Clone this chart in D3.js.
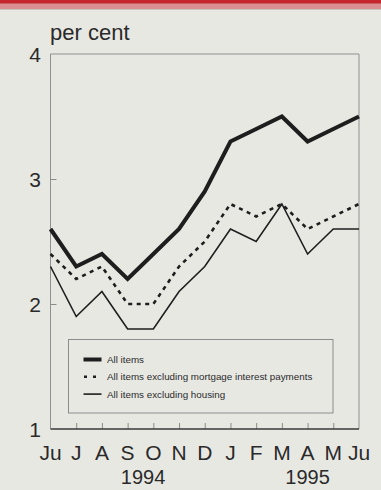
<!DOCTYPE html>
<html>
<head>
<meta charset="utf-8">
<script src="https://cdn.jsdelivr.net/npm/d3@7"></script>
<style>
  html, body { margin: 0; padding: 0; background: #e8e8e3; }
  svg { display: block; }
  text { font-family: "Liberation Sans", Arial, Helvetica, sans-serif; fill: #2a2a2a; }
</style>
</head>
<body>
<svg id="chart" width="381" height="490"></svg>
<script>
// Monthly retail price inflation, June 1994 to June 1995 (per cent)
const months = ["Ju", "J", "A", "S", "O", "N", "D", "J", "F", "M", "A", "M", "Ju"];
const allItems = [2.6, 2.3, 2.4, 2.2, 2.4, 2.6, 2.9, 3.3, 3.4, 3.5, 3.3, 3.4, 3.5];
const exMortgage = [2.4, 2.2, 2.3, 2.0, 2.0, 2.3, 2.5, 2.8, 2.7, 2.8, 2.6, 2.7, 2.8];
const exHousing = [2.3, 1.9, 2.1, 1.8, 1.8, 2.1, 2.3, 2.6, 2.5, 2.8, 2.4, 2.6, 2.6];
const yTicks = [1, 2, 3, 4];
const years = [{ label: "1994", at: 3.6 }, { label: "1995", at: 10 }];
const seriesNames = [
  "All items",
  "All items excluding mortgage interest payments",
  "All items excluding housing"
];

const svg = d3.select("#chart");
const W = 381, H = 490;
const margin = { left: 50.5, right: 22, top: 54, bottom: 61 };

// top banner
svg.append("rect").attr("x", 0).attr("y", 0).attr("width", W).attr("height", 9).attr("fill", "#d98f8f");
svg.append("rect").attr("x", 0).attr("y", 0).attr("width", W).attr("height", 3.5).attr("fill", "#c4262c");
svg.append("line").attr("x1", 0).attr("x2", W).attr("y1", 9.5).attr("y2", 9.5)
  .attr("stroke", "#c9c3bf").attr("stroke-width", 1);

const x = d3.scaleLinear().domain([0, months.length - 1]).range([margin.left, W - margin.right]);
const y = d3.scaleLinear().domain([1, 4]).range([H - margin.bottom, margin.top]);

// frame
const g = svg.append("g");
g.append("path")
  .attr("d", `M${x(0)},${y(1)}V${y(4)}H${x(12)}V${y(1)}`)
  .attr("fill", "none").attr("stroke", "#8f8f8f").attr("stroke-width", 1);

// bottom axis with upward ticks
const xAxis = d3.axisBottom(x).tickValues(d3.range(1, 12)).tickSize(-6).tickFormat("");
const xg = g.append("g").attr("transform", `translate(0,${y(1)})`).call(xAxis);
xg.select(".domain").remove();
xg.selectAll(".tick line").attr("stroke", "#8a8a8a").attr("stroke-width", 1);
g.append("line").attr("x1", x(0)).attr("x2", x(12)).attr("y1", y(1)).attr("y2", y(1))
  .attr("stroke", "#3a3a3a").attr("stroke-width", 1.5);

// left axis: inward ticks at 2 and 3, labels for all
const yAxis = d3.axisLeft(y).tickValues([2, 3]).tickSize(-6).tickFormat("");
const yg = g.append("g").attr("transform", `translate(${x(0)},0)`).call(yAxis);
yg.select(".domain").remove();
yg.selectAll(".tick line").attr("stroke", "#8a8a8a").attr("stroke-width", 1);

g.selectAll(".ylab").data(yTicks).join("text")
  .attr("class", "ylab")
  .attr("x", 41).attr("y", d => y(d) + 8)
  .attr("text-anchor", "end")
  .attr("font-size", 21)
  .text(d => d);

g.append("text").attr("x", 50).attr("y", 40).attr("font-size", 22).text("per cent");

// month labels
g.selectAll(".mlab").data(months).join("text")
  .attr("class", "mlab")
  .attr("x", (d, i) => x(i)).attr("y", 460)
  .attr("text-anchor", "middle")
  .attr("font-size", 21)
  .text(d => d);

g.selectAll(".yrlab").data(years).join("text")
  .attr("class", "yrlab")
  .attr("x", d => x(d.at)).attr("y", 484)
  .attr("text-anchor", "middle")
  .attr("font-size", 20)
  .text(d => d.label);

// series lines
const line = d3.line().x((d, i) => x(i)).y(d => y(d));
const styles = [
  { data: allItems, width: 4, dash: null },
  { data: exMortgage, width: 2.6, dash: "4,4.5" },
  { data: exHousing, width: 1.6, dash: null }
];
g.selectAll(".series").data(styles).join("path")
  .attr("class", "series")
  .attr("d", d => line(d.data))
  .attr("fill", "none")
  .attr("stroke", "#1e1e1e")
  .attr("stroke-width", d => d.width)
  .attr("stroke-dasharray", d => d.dash)
  .attr("stroke-linejoin", "miter");

// legend
const lg = g.append("g");
lg.append("rect").attr("x", 68.5).attr("y", 339.5).attr("width", 264.5).attr("height", 73.5)
  .attr("fill", "none").attr("stroke", "#8c8c8c").attr("stroke-width", 1);
const rows = lg.selectAll(".row").data(styles).join("g")
  .attr("class", "row")
  .attr("transform", (d, i) => `translate(0,${359.5 + i * 17.3})`);
rows.append("line")
  .attr("x1", d => d.dash ? 84 : 83.5).attr("x2", 101.5).attr("y1", 0).attr("y2", 0)
  .attr("stroke", "#1e1e1e")
  .attr("stroke-width", d => d.width)
  .attr("stroke-dasharray", d => d.dash ? "3,6" : null);
rows.append("text")
  .attr("x", 107).attr("y", 3.5)
  .attr("font-size", 9.8)
  .attr("fill", "#3a3a3a")
  .text((d, i) => seriesNames[i]);
</script>
</body>
</html>
